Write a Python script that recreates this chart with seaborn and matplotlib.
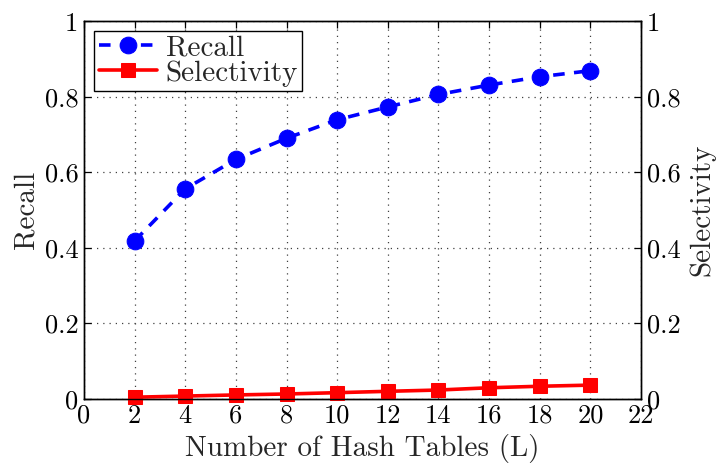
import matplotlib
matplotlib.use("Agg")
import matplotlib.pyplot as plt
from matplotlib.ticker import FuncFormatter
import numpy as np
import pandas as pd
import seaborn as sns

# Recall / selectivity versus the number of LSH hash tables
hash_tables = [2, 4, 6, 8, 10, 12, 14, 16, 18, 20]
recall = [0.418, 0.556, 0.634, 0.690, 0.739, 0.773, 0.806, 0.831, 0.853, 0.869]
selectivity = [0.004, 0.007, 0.010, 0.0125, 0.016, 0.0196, 0.023, 0.029, 0.033, 0.036]

x_ticks = list(range(0, 23, 2))
y_ticks = [0, 0.2, 0.4, 0.6, 0.8, 1]

sns.set_theme(style="white")
plt.rcParams["font.family"] = ["cmr10", "DejaVu Serif"]
plt.rcParams["mathtext.fontset"] = "cm"
plt.rcParams["axes.formatter.use_mathtext"] = True

FS = 19
LFS = 21

df = pd.DataFrame({"L": hash_tables, "Recall": recall, "Selectivity": selectivity})

fig = plt.figure(figsize=(7.19, 4.66), dpi=100)
ax = fig.add_axes([0.1168, 0.1444, 0.7747, 0.810])

sns.lineplot(data=df, x="L", y="Recall", ax=ax, color="blue", marker="o",
             markersize=12, markeredgecolor="blue", linewidth=2.6,
             linestyle="--", label="Recall", legend=False)
ax.lines[0].set_dashes((3.2, 2.6))
ax.lines[0].set_clip_on(False)

ax.set_xlim(0, 22)
ax.set_ylim(0, 1)
ax.set_xticks(x_ticks)
ax.set_yticks(y_ticks)
fmt = FuncFormatter(lambda v, p: f"{v:g}")
ax.xaxis.set_major_formatter(fmt)
ax.yaxis.set_major_formatter(fmt)
ax.grid(True, linestyle=(0, (1, 4)), color="0.25", linewidth=0.9)
ax.tick_params(direction="in", top=True, right=False, length=5, width=0.9,
               labelsize=FS, colors="black", pad=4)
ax.set_xlabel("Number of Hash Tables (L)", fontsize=LFS, labelpad=4)
ax.set_ylabel("Recall", fontsize=LFS, labelpad=4)

ax2 = ax.twinx()
sns.lineplot(data=df, x="L", y="Selectivity", ax=ax2, color="red", marker="s",
             markersize=10, markeredgecolor="red", linewidth=2.6,
             label="Selectivity", legend=False)
ax2.lines[0].set_clip_on(False)
ax2.set_ylim(0, 1)
ax2.set_yticks(y_ticks)
ax2.yaxis.set_major_formatter(fmt)
ax2.tick_params(direction="in", length=5, width=0.9, labelsize=FS,
                colors="black", pad=4)
ax2.set_ylabel("Selectivity", fontsize=LFS, labelpad=6)

for a in (ax, ax2):
    for s in a.spines.values():
        s.set_color("black")
        s.set_linewidth(1.0)

handles = [ax.lines[0], ax2.lines[0]]
leg = ax2.legend(handles, ["Recall", "Selectivity"], loc="upper left",
                 bbox_to_anchor=(0.008, 0.99), fontsize=LFS, frameon=True,
                 fancybox=False, framealpha=1, edgecolor="black",
                 borderpad=0.15, labelspacing=-0.05, handlelength=2.0,
                 handletextpad=0.3, borderaxespad=0.2)
leg.get_frame().set_linewidth(1.0)

fig.savefig("out.png", dpi=100)
